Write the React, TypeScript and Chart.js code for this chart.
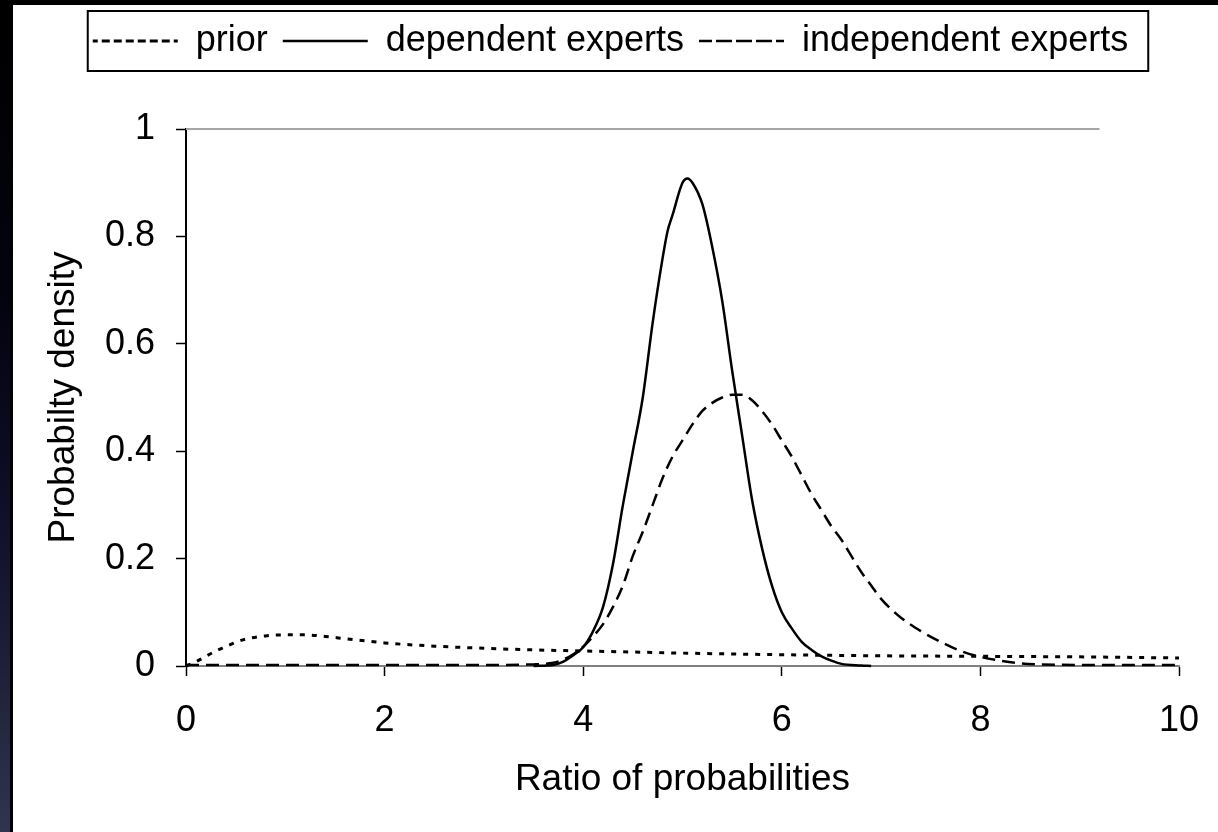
import React, { useEffect, useRef } from 'react';
import Chart from 'chart.js/auto';

// ---- data ----
const seriesLabels = ['prior', 'dependent experts', 'independent experts'];
const xTitle = 'Ratio of probabilities';
const yTitle = 'Probabilty density';
const xTickValues = [0, 2, 4, 6, 8, 10];
const yTickValues = [0, 0.2, 0.4, 0.6, 0.8, 1];
const yTickLabels = ['0', '0.2', '0.4', '0.6', '0.8', '1'];

const priorX = [0, 0.1, 0.2, 0.3, 0.4, 0.5, 0.6, 0.8, 1.0, 1.2, 1.4, 1.6, 1.8, 2.0, 2.5, 3.0, 3.5, 4.0, 4.5, 5.0, 6.0, 7.0, 8.0, 9.0, 10.0];
const priorY = [0, 0.008, 0.018, 0.028, 0.036, 0.044, 0.05, 0.056, 0.058, 0.058, 0.055, 0.051, 0.047, 0.043, 0.037, 0.033, 0.030, 0.028, 0.026, 0.024, 0.021, 0.019, 0.018, 0.017, 0.015];

const depX = [3.5, 3.7, 3.8, 3.9, 4.0, 4.1, 4.2, 4.3, 4.4, 4.5, 4.6, 4.7, 4.8, 4.85, 4.9, 5.0, 5.05, 5.1, 5.2, 5.3, 5.4, 5.5, 5.6, 5.7, 5.8, 5.9, 6.0, 6.1, 6.2, 6.3, 6.4, 6.5, 6.6, 6.8, 6.9];
const depY = [0, 0.002, 0.008, 0.02, 0.035, 0.065, 0.11, 0.19, 0.30, 0.40, 0.50, 0.64, 0.76, 0.81, 0.84, 0.90, 0.908, 0.90, 0.86, 0.78, 0.68, 0.55, 0.43, 0.31, 0.22, 0.15, 0.10, 0.07, 0.045, 0.03, 0.018, 0.01, 0.004, 0.001, 0];

const indX = [0, 1, 2, 3, 3.5, 3.7, 3.8, 3.9, 4.0, 4.1, 4.2, 4.3, 4.4, 4.5, 4.6, 4.7, 4.8, 4.9, 5.0, 5.1, 5.2, 5.3, 5.4, 5.5, 5.6, 5.7, 5.8, 5.9, 6.0, 6.1, 6.2, 6.3, 6.4, 6.5, 6.6, 6.7, 6.8, 6.9, 7.0, 7.2, 7.4, 7.6, 7.8, 8.0, 8.2, 8.4, 8.6, 9.0, 10.0];
const indY = [0.002, 0.002, 0.002, 0.002, 0.003, 0.006, 0.012, 0.022, 0.036, 0.055, 0.078, 0.11, 0.15, 0.205, 0.25, 0.30, 0.35, 0.39, 0.42, 0.45, 0.475, 0.49, 0.50, 0.505, 0.505, 0.495, 0.475, 0.45, 0.42, 0.39, 0.355, 0.32, 0.29, 0.26, 0.235, 0.205, 0.175, 0.15, 0.125, 0.09, 0.065, 0.045, 0.028, 0.017, 0.01, 0.005, 0.003, 0.002, 0.002];

// top frame line of the plot area (gray)
const frameX = [0, 9.2];
const frameY = [1, 1];

const FONT = '"Liberation Sans", Arial, Helvetica, sans-serif';
const toPts = (xs: number[], ys: number[]) => xs.map((x, i) => ({ x, y: ys[i] }));

const legendFrame = {
  id: 'legendFrame',
  afterDraw(chart: any) {
    const lg = chart.legend;
    if (!lg || !lg.legendHitBoxes || !lg.legendHitBoxes.length) return;
    const hb = lg.legendHitBoxes;
    const first = hb[0];
    const last = hb[hb.length - 1];
    const cy = first.top + first.height / 2;
    const ctx = chart.ctx;
    ctx.save();
    ctx.strokeStyle = '#000';
    ctx.lineWidth = 2;
    ctx.setLineDash([]);
    ctx.strokeRect(first.left - 5, cy - 30, last.left + last.width + 20 - (first.left - 5), 60);
    ctx.restore();
  },
};

export default function App() {
  const ref = useRef<HTMLCanvasElement | null>(null);
  useEffect(() => {
    if (!ref.current) return;
    const tickFont = { family: FONT, size: 36 };
    const chart = new Chart(ref.current, {
      type: 'line',
      data: {
        datasets: [
          {
            label: seriesLabels[0],
            data: toPts(priorX, priorY),
            borderColor: '#000',
            backgroundColor: 'transparent',
            borderWidth: 3,
            borderDash: [5, 7],
            pointRadius: 0,
            cubicInterpolationMode: 'monotone',
            clip: 8,
          },
          {
            label: seriesLabels[1],
            data: toPts(depX, depY),
            borderColor: '#000',
            backgroundColor: 'transparent',
            borderWidth: 2.5,
            pointRadius: 0,
            cubicInterpolationMode: 'monotone',
            clip: 8,
          },
          {
            label: seriesLabels[2],
            data: toPts(indX, indY),
            borderColor: '#000',
            backgroundColor: 'transparent',
            borderWidth: 2.5,
            borderDash: [13, 7],
            pointRadius: 0,
            cubicInterpolationMode: 'monotone',
            clip: 8,
          },
          {
            label: 'frame',
            data: toPts(frameX, frameY),
            borderColor: '#a6a6a6',
            backgroundColor: 'transparent',
            borderWidth: 2,
            pointRadius: 0,
            clip: 8,
          },
        ],
      } as any,
      options: {
        responsive: false,
        animation: false,
        devicePixelRatio: 1,
        events: [],
        layout: { padding: { left: 29, right: 39, top: 3, bottom: 30 } },
        plugins: {
          legend: {
            position: 'top',
            align: 'center',
            labels: {
              boxWidth: 85,
              boxHeight: 0,
              padding: 15,
              color: '#000',
              font: { family: FONT, size: 36 },
              filter: (it: any) => it.datasetIndex < 3,
            },
          },
          title: {
            display: true,
            text: '',
            weight: 500,
            padding: 0,
            font: { size: 10, lineHeight: '60px' },
          },
          tooltip: { enabled: false },
        },
        scales: {
          x: {
            type: 'linear',
            min: 0,
            max: 10,
            afterBuildTicks: (s: any) => {
              s.ticks = xTickValues.map((v) => ({ value: v }));
            },
            afterFit: (s: any) => {
              s.height = 136;
              s.paddingLeft = 20;
              s.paddingRight = 24;
            },
            ticks: { color: '#000', font: tickFont, padding: 23, maxRotation: 0 },
            grid: { drawOnChartArea: false, drawTicks: true, tickLength: 10, color: '#000', tickWidth: 1.5 },
            border: { color: '#808080', width: 2 },
            title: { display: true, text: xTitle, color: '#000', font: { family: FONT, size: 37 }, padding: 0 },
          },
          y: {
            type: 'linear',
            min: 0,
            max: 1,
            afterBuildTicks: (s: any) => {
              s.ticks = yTickValues.map((v) => ({ value: v }));
            },
            afterFit: (s: any) => {
              s.width = 144;
            },
            ticks: {
              color: '#000',
              font: tickFont,
              padding: 21,
              callback: (v: any) => {
                const i = yTickValues.indexOf(Number(v));
                return i >= 0 ? yTickLabels[i] : '';
              },
            },
            grid: { drawOnChartArea: false, drawTicks: true, tickLength: 10, color: '#000', tickWidth: 1.5 },
            border: { color: '#000', width: 2 },
            title: { display: true, text: yTitle, color: '#000', font: { family: FONT, size: 37 }, padding: 0 },
          },
        },
      } as any,
      plugins: [legendFrame],
    });
    return () => chart.destroy();
  }, []);

  return (
    <div style={{ position: 'absolute', left: 0, top: 0, width: 1218, height: 832, background: '#000', overflow: 'hidden' }}>
      <div
        style={{
          position: 'absolute',
          left: 0,
          top: 0,
          width: 10,
          height: 832,
          background: 'linear-gradient(to bottom, #000 0%, #03030f 35%, #0e0e26 60%, #1e2038 80%, #30344f 100%)',
        }}
      />
      <div style={{ position: 'absolute', left: 13, top: 5, width: 1205, height: 827, background: '#fff' }}>
        <canvas ref={ref} width={1205} height={827} style={{ display: 'block' }} />
      </div>
    </div>
  );
}
